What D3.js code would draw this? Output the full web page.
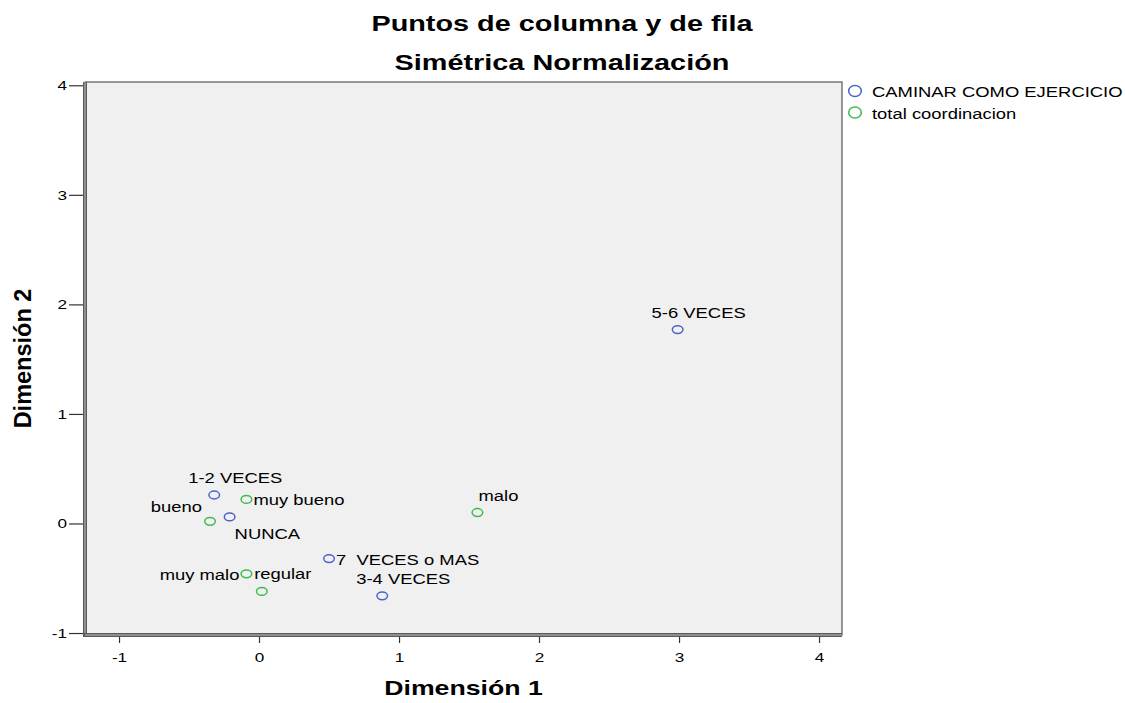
<!DOCTYPE html>
<html>
<head>
<meta charset="utf-8">
<script src="https://cdn.jsdelivr.net/npm/d3@7"></script>
<style>
  html, body { margin: 0; padding: 0; background: #ffffff; }
  svg { display: block; }
  text { font-family: "Liberation Sans", Arial, sans-serif; white-space: pre; }
</style>
</head>
<body>
<svg id="chart" width="1125" height="703"></svg>
<script>
// ---- Data ----
const titleLines = ["Puntos de columna y de fila", "Simétrica Normalización"];
const xAxisTitle = "Dimensión 1";
const yAxisTitle = "Dimensión 2";
const xTicks = [-1, 0, 1, 2, 3, 4];
const yTicks = [-1, 0, 1, 2, 3, 4];

const seriesNames = ["CAMINAR COMO EJERCICIO", "total coordinacion"];

// Row points: CAMINAR COMO EJERCICIO
const rowCategories = ["NUNCA", "1-2 VECES", "3-4 VECES", "5-6 VECES", "7  VECES o MAS"];
const rowDim1 = [-0.21, -0.32, 0.88, 2.99, 0.50];
const rowDim2 = [0.06, 0.26, -0.66, 1.77, -0.32];
const rowLabelSide = ["below-right", "above", "above", "above", "right"];

// Column points: total coordinacion
const colCategories = ["muy malo", "malo", "regular", "bueno", "muy bueno"];
const colDim1 = [-0.09, 1.56, 0.02, -0.35, -0.09];
const colDim2 = [-0.46, 0.10, -0.62, 0.02, 0.22];
const colLabelSide = ["left", "above", "above", "upper-left", "right"];

// ---- Layout / style ----
const SX = 1.27; // horizontal stretch of the text in the reference
const colors = ["#4a63c8", "#3dbb4c"];
const plot = { left: 85, right: 842, top: 82, bottom: 635 };

const svg = d3.select("#chart");

const x = d3.scaleLinear().domain([-1.243, 4.164]).range([plot.left, plot.right]);
const y = d3.scaleLinear().domain([-1.018, 4.03]).range([plot.bottom, plot.top]);

function stretched(sel, px, py) {
  return sel.attr("transform", `translate(${px},${py}) scale(${SX},1)`);
}

// Titles
titleLines.forEach((t, i) => {
  stretched(svg.append("text"), 562, i === 0 ? 31 : 70)
    .attr("text-anchor", "middle")
    .attr("font-size", 22.7)
    .attr("font-weight", "bold")
    .attr("fill", "#000")
    .text(t);
});

// Plot background
svg.append("rect")
  .attr("x", plot.left).attr("y", plot.top)
  .attr("width", plot.right - plot.left).attr("height", plot.bottom - plot.top)
  .attr("fill", "#f0f0f0")
  .attr("stroke", "#555").attr("stroke-width", 1.2);

// Axes
const fmt = d => String(d);
const yAxis = d3.axisLeft(y).tickValues(yTicks).tickSize(16).tickSizeOuter(0).tickPadding(2)
  .tickFormat(fmt);
const xAxis = d3.axisBottom(x).tickValues(xTicks).tickSize(8).tickSizeOuter(0).tickPadding(9)
  .tickFormat(fmt);

const gy = svg.append("g").attr("transform", `translate(${plot.left},0)`).call(yAxis);
const gx = svg.append("g").attr("transform", `translate(0,${plot.bottom})`).call(xAxis);

[gx, gy].forEach(g => {
  g.select(".domain").remove();
  g.selectAll(".tick line").attr("stroke", "#333").attr("stroke-width", 1.2);
  g.selectAll(".tick text")
    .attr("font-family", "Liberation Sans, Arial, sans-serif")
    .attr("font-size", 13.5)
    .attr("fill", "#000");
});
gy.selectAll(".tick text").each(function () {
  const t = d3.select(this);
  t.attr("x", +t.attr("x") / SX).attr("transform", `scale(${SX},1)`);
});
gx.selectAll(".tick text").attr("transform", `scale(${SX},1)`);

// Heavy axis lines (left and bottom) like the reference frame
svg.append("line")
  .attr("x1", plot.left).attr("x2", plot.left)
  .attr("y1", plot.top).attr("y2", plot.bottom + 2)
  .attr("stroke", "#5a5a5a").attr("stroke-width", 4);
svg.append("line")
  .attr("x1", plot.left).attr("x2", plot.left)
  .attr("y1", plot.top).attr("y2", plot.bottom)
  .attr("stroke", "#a0a0a0").attr("stroke-width", 1.5);
svg.append("line")
  .attr("x1", plot.left - 2).attr("x2", plot.right)
  .attr("y1", plot.bottom).attr("y2", plot.bottom)
  .attr("stroke", "#5a5a5a").attr("stroke-width", 4);
svg.append("line")
  .attr("x1", plot.left).attr("x2", plot.right)
  .attr("y1", plot.bottom).attr("y2", plot.bottom)
  .attr("stroke", "#a0a0a0").attr("stroke-width", 1.5);

// Axis titles
stretched(svg.append("text"), (plot.left + plot.right) / 2, 695)
  .attr("text-anchor", "middle")
  .attr("font-size", 21)
  .attr("font-weight", "bold")
  .text(xAxisTitle);

svg.append("text")
  .attr("transform", `translate(31,${(plot.top + plot.bottom) / 2}) rotate(-90)`)
  .attr("text-anchor", "middle")
  .attr("font-size", 23.5)
  .attr("font-weight", "bold")
  .text(yAxisTitle);

// Points
const series = [
  { cats: rowCategories, d1: rowDim1, d2: rowDim2, side: rowLabelSide, color: colors[0] },
  { cats: colCategories, d1: colDim1, d2: colDim2, side: colLabelSide, color: colors[1] }
];

const labelOffsets = {
  "above":       { dx: 21, dy: -12, anchor: "middle" },
  "right":       { dx: 7,  dy: 6,   anchor: "start" },
  "left":        { dx: -7, dy: 6,   anchor: "end" },
  "upper-left":  { dx: -8, dy: -9,  anchor: "end" },
  "below-right": { dx: 5,  dy: 22,  anchor: "start" }
};

series.forEach(s => {
  const data = s.cats.map((c, i) => ({ name: c, d1: s.d1[i], d2: s.d2[i], side: s.side[i] }));
  const g = svg.append("g");
  g.selectAll("ellipse").data(data).join("ellipse")
    .attr("cx", d => x(d.d1))
    .attr("cy", d => y(d.d2))
    .attr("rx", 5.3).attr("ry", 3.9)
    .attr("fill", "none")
    .attr("stroke", s.color)
    .attr("stroke-width", 1.5);
  g.selectAll("text").data(data).join("text")
    .attr("transform", d => {
      const o = labelOffsets[d.side];
      return `translate(${x(d.d1) + o.dx},${y(d.d2) + o.dy}) scale(${SX},1)`;
    })
    .attr("text-anchor", d => labelOffsets[d.side].anchor)
    .attr("font-size", 14.5)
    .attr("fill", "#000")
    .text(d => d.name);
});

// Legend
const legend = svg.append("g");
seriesNames.forEach((name, i) => {
  const cy = 91 + i * 21.5;
  legend.append("ellipse")
    .attr("cx", 855).attr("cy", cy)
    .attr("rx", 6.3).attr("ry", 5.6)
    .attr("fill", "none")
    .attr("stroke", colors[i])
    .attr("stroke-width", 1.5);
  stretched(legend.append("text"), 872, cy + 6)
    .attr("font-size", 14.5)
    .attr("fill", "#000")
    .text(name);
});
</script>
</body>
</html>
